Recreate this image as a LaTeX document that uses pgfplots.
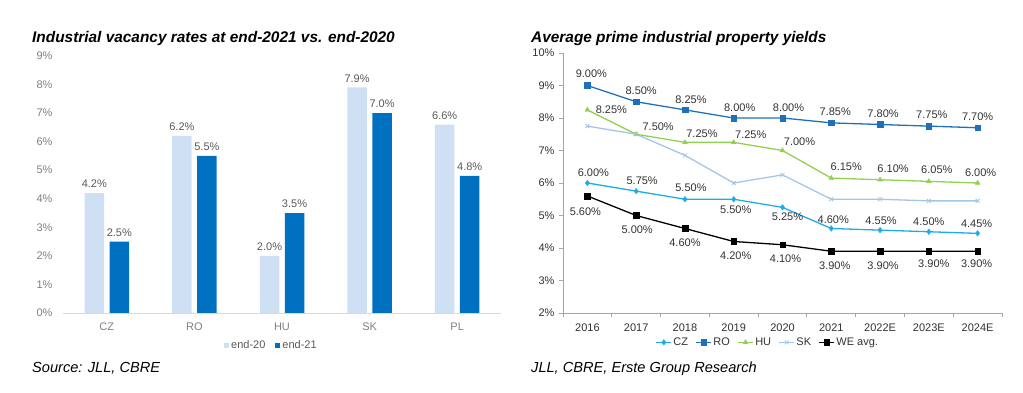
\documentclass[border=0pt]{standalone}
\usepackage{pgfplots}
\pgfplotsset{compat=1.18}
\usepackage{pgfplotstable}
\usepackage{fontspec}
\setmainfont{Liberation Sans}
\definecolor{lightbar}{RGB}{207,224,244}
\definecolor{darkbar}{RGB}{0,112,192}
\definecolor{czc}{RGB}{30,172,230}
\definecolor{roc}{RGB}{31,112,185}
\definecolor{huc}{RGB}{146,208,80}
\definecolor{skc}{RGB}{163,198,230}
\definecolor{ticklbl}{RGB}{127,127,127}
\definecolor{datalbl}{RGB}{89,89,89}
\definecolor{darklbl}{RGB}{50,50,50}
\definecolor{axgrey}{RGB}{217,217,217}
\definecolor{axgreyb}{RGB}{166,166,166}

\pgfplotstableread{
x end20 end21
0 4.2 2.5
1 6.2 5.5
2 2.0 3.5
3 7.9 7.0
4 6.6 4.8
}\vacancy

\pgfplotstableread{
x cz czdx czdy ro rodx rody hu hudx hudy sk we wedx wedy
0 6.00 6 10 9.00 4 12 8.25 24 0 7.75 5.60 -2 -15.5
1 5.75 6 10 8.50 5 11 7.50 22 7.5 7.50 5.00 1 -14
2 5.50 6 12 8.25 6 10 7.25 17 9 6.85 4.60 0 -14
3 5.50 2 -10 8.00 6 10.5 7.25 17 8 6.00 4.20 2 -14.5
4 5.25 5 -9 8.00 6 10.5 7.00 17 9 6.25 4.10 3 -13.5
5 4.60 2 9 7.85 4 11 6.15 15 11 5.50 3.90 3.5 -14
6 4.55 1 9 7.80 3 10.5 6.10 13 11 5.50 3.90 3 -14
7 4.50 0 10 7.75 3 11 6.05 8 12 5.45 3.90 5 -12
8 4.45 -1 10 7.70 0 11 6.00 3 10 5.45 3.90 -1 -12
}\yields

\def\ldx{0}\def\ldy{0}
\pgfplotsset{
  /pgf/number format/assume math mode=true,
  lab/.style={
    nodes near coords={\pgfmathprintnumber[fixed,fixed zerofill,precision=2]{\pgfplotspointmeta}\%},
    every node near coord/.append style={anchor=center, xshift=\ldx pt, yshift=\ldy pt, text=darklbl, font=\fontsize{11}{13}\selectfont},
  },
}

\begin{document}
\begin{tikzpicture}[x=1pt,y=1pt]
\useasboundingbox (0,0) rectangle (1023,393);

% titles and sources
\node[anchor=base west, inner sep=0pt, font=\bfseries\itshape\fontsize{15.4}{17}\selectfont] at (32,350.5) {Industrial vacancy rates at end-2021 vs. end-2020};
\node[anchor=base west, inner sep=0pt, font=\bfseries\itshape\fontsize{15.4}{17}\selectfont] at (531,350.5) {Average prime industrial property yields};
\node[anchor=base west, inner sep=0pt, font=\itshape\fontsize{14.6}{16}\selectfont] at (32,20) {Source: JLL, CBRE};
\node[anchor=base west, inner sep=0pt, font=\itshape\fontsize{14.6}{16}\selectfont] at (531,20) {JLL, CBRE, Erste Group Research};

% left chart
\begin{axis}[
  at={(63pt,80pt)}, anchor=south west, scale only axis,
  width=438pt, height=257pt,
  xmin=-0.5, xmax=4.5, ymin=0, ymax=9,
  ytick={0,1,...,9}, yticklabel={\pgfmathprintnumber{\tick}\%},
  xtick={0,...,4}, xticklabels={CZ,RO,HU,SK,PL},
  axis x line*=bottom, axis y line*=left,
  x axis line style={draw=axgrey, line width=0.9pt},
  y axis line style={draw=none},
  major tick length=0pt,
  tick style={draw=none},
  tick label style={text=ticklbl, font=\fontsize{11}{13}\selectfont},
  yticklabel style={xshift=-7pt},
  xticklabel style={yshift=-6pt},
  ybar=5.5pt, bar width=19.5pt,
  nodes near coords={\pgfmathprintnumber[fixed,fixed zerofill,precision=1]{\pgfplotspointmeta}\%},
  every node near coord/.append style={anchor=center, yshift=9pt, text=datalbl, font=\fontsize{11}{13}\selectfont},
  clip=false,
  legend columns=2,
  legend style={draw=none, fill=none, at={(0.476,-0.1265)}, anchor=center,
    font=\fontsize{11}{13}\selectfont, text=datalbl,
    /tikz/every even column/.append style={column sep=8pt}},
  legend image code/.code={\fill[#1] (0pt,-2.5pt) rectangle (5pt,2.5pt);},
]
\addplot[fill=lightbar, draw=none] table[x=x,y=end20]{\vacancy};
\addplot[fill=darkbar, draw=none] table[x=x,y=end21]{\vacancy};
\legend{end-20, end-21}
\end{axis}

% right chart
\begin{axis}[
  at={(563pt,80pt)}, anchor=south west, scale only axis,
  width=439pt, height=260pt,
  xmin=-0.5, xmax=8.5, ymin=2, ymax=10,
  ytick={2,3,...,10}, yticklabel={\pgfmathprintnumber{\tick}\%},
  xtick={0,...,8}, xticklabels={2016,2017,2018,2019,2020,2021,2022E,2023E,2024E},
  minor xtick={-0.5,0.5,...,8.5},
  axis x line*=bottom, axis y line*=left,
  axis line style={draw=axgreyb, line width=0.8pt},
  tick align=outside,
  major tick length=4pt, minor tick length=4pt,
  major x tick style={draw=none},
  minor x tick style={draw=axgreyb, line width=0.8pt},
  ytick style={draw=axgreyb, line width=0.8pt},
  tick label style={text=darklbl, font=\fontsize{11}{13}\selectfont},
  yticklabel style={xshift=-1pt},
  xticklabel style={yshift=-3pt},
  clip=false,
  legend columns=5,
  legend style={draw=none, fill=none, at={(0.466,-0.113)}, anchor=center,
    font=\fontsize{11}{13}\selectfont, text=darklbl,
    /tikz/every even column/.append style={column sep=6pt},
    nodes={inner xsep=1.5pt}},
  legend image code/.code={\draw[mark repeat=2,mark phase=2,#1] plot coordinates {(0pt,0pt) (7.5pt,0pt) (15pt,0pt)};},
]
\addlegendimage{czc, line width=1.3pt, mark=diamond*, mark size=2.8pt, mark options={solid, line width=0.4pt}}
\addlegendentry{CZ}
\addlegendimage{roc, line width=1.3pt, mark=square*, mark size=2.8pt, mark options={solid, line width=0.4pt}}
\addlegendentry{RO}
\addlegendimage{huc, line width=1.3pt, mark=triangle*, mark size=2.8pt, mark options={solid, line width=0.4pt}}
\addlegendentry{HU}
\addlegendimage{skc, line width=1.3pt, mark=x, mark size=2.8pt, mark options={solid, line width=0.8pt}}
\addlegendentry{SK}
\addlegendimage{black, line width=1.3pt, mark=square*, mark size=2.8pt, mark options={solid, line width=0.4pt}}
\addlegendentry{WE avg.}
\addplot[forget plot, czc, line width=1.3pt, mark=diamond*, mark size=2.8pt, mark options={solid, line width=0.4pt}, lab,
  visualization depends on={\thisrow{czdx}\as\ldx}, visualization depends on={\thisrow{czdy}\as\ldy}] table[x=x,y=cz]{\yields};
\addplot[forget plot, roc, line width=1.3pt, mark=square*, mark size=2.8pt, mark options={solid, line width=0.4pt}, lab,
  visualization depends on={\thisrow{rodx}\as\ldx}, visualization depends on={\thisrow{rody}\as\ldy}] table[x=x,y=ro]{\yields};
\addplot[forget plot, huc, line width=1.3pt, mark=triangle*, mark size=2.8pt, mark options={solid, line width=0.4pt}, lab,
  visualization depends on={\thisrow{hudx}\as\ldx}, visualization depends on={\thisrow{hudy}\as\ldy}] table[x=x,y=hu]{\yields};
\addplot[forget plot, skc, line width=1.3pt, mark=x, mark size=2.8pt, mark options={solid, line width=0.8pt}] table[x=x,y=sk]{\yields};
\addplot[forget plot, black, line width=1.3pt, mark=square*, mark size=2.8pt, mark options={solid, line width=0.4pt}, lab,
  visualization depends on={\thisrow{wedx}\as\ldx}, visualization depends on={\thisrow{wedy}\as\ldy}] table[x=x,y=we]{\yields};
\end{axis}
\end{tikzpicture}
\end{document}
